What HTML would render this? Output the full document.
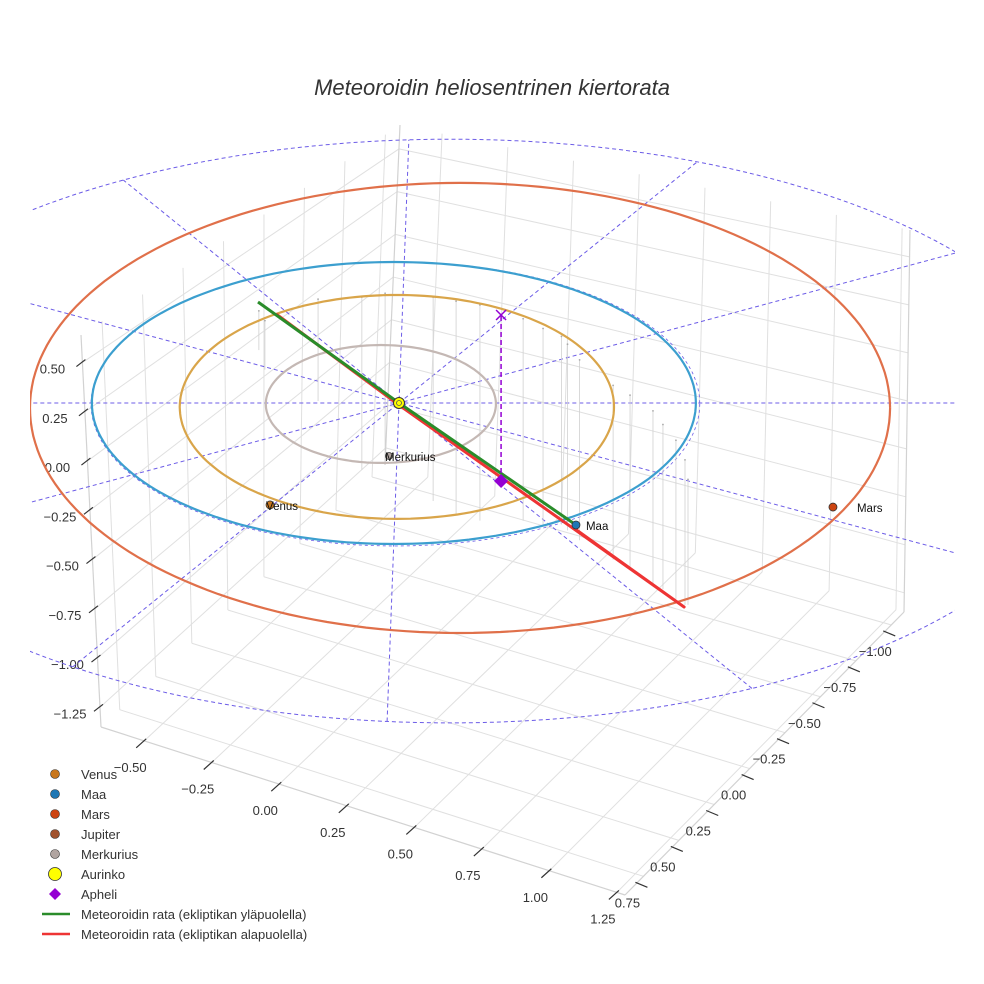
<!DOCTYPE html>
<html><head><meta charset="utf-8">
<style>
html,body{margin:0;padding:0;background:#fff;}
svg{display:block;font-family:"Liberation Sans",sans-serif;}
</style></head>
<body>
<svg id="chart" width="984" height="984" viewBox="0 0 984 984" xmlns="http://www.w3.org/2000/svg">
<defs><clipPath id="clip"><rect x="30" y="0" width="925" height="984"/></clipPath></defs>
<rect width="984" height="984" fill="#fff"/>
<text x="492" y="95" text-anchor="middle" font-size="22" font-style="italic" fill="#333">Meteoroidin heliosentrinen kiertorata</text>
<g id="box"></g>
<g id="content" clip-path="url(#clip)"></g>
<g id="legend"></g>
</svg>
<script>
// ---- axis data ----
const xTicks = [-0.5,-0.25,0,0.25,0.5,0.75,1,1.25];
const yTicks = [-1,-0.75,-0.5,-0.25,0,0.25,0.5,0.75];
const zTicks = [-1.25,-1,-0.75,-0.5,-0.25,0,0.25,0.5];
const xRange = [-0.66,1.28];
const yRange = [-1.09,0.88];
const zRange = [-1.35,0.64];
// ---- orbit data (ecliptic frame, AU) ----
const orbitNames = ['Merkurius','Venus','Maa','Mars'];
const orbitCx = [-0.06,-0.007,-0.017,0.202];
const orbitCy = [0.007,0.028,0,0.035];
const orbitRx = [0.381,0.719,1.0,1.424];
const orbitRy = [0.418,0.794,1.0,1.596];
const orbitColors = ['#c4b8b4','#d9a54a','#3c9fcf','#e0704a'];
// planets
const planetNames = ['Venus','Maa','Mars','Merkurius'];
const planetX = [-0.427,0.586,1.437,-0.033];
const planetY = [0.723,0.865,0.738,0.376];
const planetColors = ['#c8761c','#1f77b4','#cc4411','#b0a4a0'];
// reference grid
const refAngles = [0,30,60,91,120,150];
const refCircleCx = 0.169, refCircleCy = 0.199, refCircleRx = 2.12, refCircleRy = 2.07;
// meteoroid orbit
const aboveX = [-0.467,0,0.586];
const aboveY = [-0.716,0,0.865];
const aboveZ = [0,0,0];
const belowX = [-0.407,0,0.944,0.579];
const belowY = [-0.631,0.014,1.447,0.887];
const belowZ = [0,0,0,0];
// aphelion
const aphX = 0.338, aphY = -0.624, aphZ = -0.847;
// drop lines (x, z top, z bottom)
const dropX = [-0.464,-0.444,-0.268,-0.123,-0.046,0.113,0.189,0.268,0.411,0.477,0.538,0.558,0.598,0.709,0.765,0.841,0.874,0.917,0.947,0.957];
const dropTop = [0.47,0.42,0.53,0.54,0.56,0.54,0.52,0.5,0.43,0.38,0.34,0.30,0.22,0.09,0.04,-0.04,-0.11,-0.19,-0.29,-0.39];
const dropBot = [0.27,0.17,0.01,-0.34,-0.3,-0.5,-0.57,-0.6,-0.6,-0.62,-0.62,-0.65,-0.7,-0.8,-0.85,-0.93,-0.95,-1.0,-1.03,-1.03];

const NS='http://www.w3.org/2000/svg';
function mk(tag,attrs,parent){const e=document.createElementNS(NS,tag);for(const k in attrs)e.setAttribute(k,attrs[k]);parent.appendChild(e);return e;}
// ---- box projection ----
const FL={L:[101,727],F:[625,895],R:[904,612],B:[385,465]};
const TP={L:[81,335],F:[591,440],R:[910,230],B:[400,125]};
function bil(c,a,b){
  const p00=c.B,p10=c.R,p01=c.L,p11=c.F;
  return [0,1].map(i=>(1-a)*(1-b)*p00[i]+a*(1-b)*p10[i]+(1-a)*b*p01[i]+a*b*p11[i]);}
function boxP(x,y,z){const a=(x-xRange[0])/(xRange[1]-xRange[0]),b=(y-yRange[0])/(yRange[1]-yRange[0]),c=(z-zRange[0])/(zRange[1]-zRange[0]);
  const f=bil(FL,a,b),t=bil(TP,a,b);return [f[0]+(t[0]-f[0])*c,f[1]+(t[1]-f[1])*c];}
const box=document.getElementById('box');
function bl(p,q,col,w){const l=mk('line',{x1:p[0],y1:p[1],x2:q[0],y2:q[1],stroke:col,'stroke-width':w},box);return l;}
const G='#e0e0e0';
xTicks.forEach(x=>{let l=bl(boxP(x,yRange[0],zRange[0]),boxP(x,yRange[1],zRange[0]),G,1);


l=bl(boxP(x,yRange[0],zRange[0]),boxP(x,yRange[0],zRange[1]),G,1);

});
yTicks.forEach(y=>{let l=bl(boxP(xRange[0],y,zRange[0]),boxP(xRange[1],y,zRange[0]),G,1);


l=bl(boxP(xRange[0],y,zRange[0]),boxP(xRange[0],y,zRange[1]),G,1);

});
zTicks.forEach(z=>{let l=bl(boxP(xRange[0],yRange[0],z),boxP(xRange[0],yRange[1],z),G,1);


l=bl(boxP(xRange[0],yRange[0],z),boxP(xRange[1],yRange[0],z),G,1);

});
[[[xRange[0],yRange[1],zRange[0]],[xRange[1],yRange[1],zRange[0]]],[[xRange[1],yRange[0],zRange[0]],[xRange[1],yRange[1],zRange[0]]],
 [[xRange[0],yRange[1],zRange[0]],[xRange[0],yRange[1],zRange[1]]],[[xRange[1],yRange[0],zRange[0]],[xRange[1],yRange[0],zRange[1]]],
 [[xRange[0],yRange[0],zRange[0]],[xRange[0],yRange[0],zRange[1]]]].forEach(e=>{
 const l=bl(boxP(...e[0]),boxP(...e[1]),'#d2d2d2',1.2);
 
 });
function tickLabel(p,txt,dx,dy,t1,t2,name){
 const l=mk('line',{x1:p[0]+t1[0],y1:p[1]+t1[1],x2:p[0]+t2[0],y2:p[1]+t2[1],stroke:'#333','stroke-width':1.2},box);
 
 
 const t=mk('text',{x:p[0]+dx,y:p[1]+dy,'text-anchor':'middle','font-size':13,fill:'#333'},box);
 
 
 t.textContent=txt;}
function fmt(v){return (v<0?'\u2212':'')+Math.abs(v).toFixed(2);}
xTicks.forEach(x=>tickLabel(boxP(x,yRange[1],zRange[0]),fmt(x),-14,31,[2,-2],[-8,7],'x-axis'));
yTicks.forEach(y=>tickLabel(boxP(xRange[1],y,zRange[0]),fmt(y),-16,31,[-8,6],[4,11],'y-axis'));
zTicks.forEach(z=>tickLabel(boxP(xRange[0],yRange[1],z),fmt(z),-30,11,[-6,4],[3,-3],'z-axis'));

// ---- content projection ----
function P(u,v,z){return [399+302*u,403+141*v-196*z];}
const C=document.getElementById('content');
function poly(pts){return pts.map(p=>p[0].toFixed(1)+','+p[1].toFixed(1)).join(' ');}
{const pts=[];for(let i=0;i<=240;i++){const t=i/240*2*Math.PI;pts.push(P(refCircleCx+refCircleRx*Math.cos(t),refCircleCy+refCircleRy*Math.sin(t),0));}
const e=mk('polyline',{points:poly(pts),fill:'none',stroke:'#6c5ce7','stroke-width':1,'stroke-dasharray':'4,3'},C);

}
{const pts=[];for(let i=0;i<=200;i++){const t=i/200*2*Math.PI;pts.push(P(-0.012+1.008*Math.cos(t),0.006+1.008*Math.sin(t),0));}
const e=mk('polyline',{points:poly(pts),fill:'none',stroke:'#6c5ce7','stroke-width':0.8,'stroke-dasharray':'3,3'},C);

}
refAngles.forEach(a=>{const r=a*Math.PI/180,dx=Math.cos(r),dy=Math.sin(r);
 const A=(dx/refCircleRx)**2+(dy/refCircleRy)**2,Bq=-2*(dx*refCircleCx/refCircleRx**2+dy*refCircleCy/refCircleRy**2),Cq=(refCircleCx/refCircleRx)**2+(refCircleCy/refCircleRy)**2-1;
 const D=Math.sqrt(Bq*Bq-4*A*Cq),t1=(-Bq+D)/(2*A),t2=(-Bq-D)/(2*A);
 const p=P(t1*dx,t1*dy,0),q=P(t2*dx,t2*dy,0);
 const l=mk('line',{x1:p[0],y1:p[1],x2:q[0],y2:q[1],stroke:'#6c5ce7','stroke-width':1,'stroke-dasharray':'4,3'},C);
 
 });
dropX.forEach((x,i)=>{const p=P(x,0,dropTop[i]),q=P(x,0,dropBot[i]);
 const l=mk('line',{x1:p[0],y1:p[1],x2:q[0],y2:q[1],stroke:'#d0d0d0','stroke-width':0.8},C);
 
 
 const d=mk('circle',{cx:p[0],cy:p[1],r:0.9,fill:'#aaa'},C);
 
 });
orbitNames.forEach((n,k)=>{const pts=[];for(let i=0;i<=200;i++){const t=i/200*2*Math.PI;pts.push(P(orbitCx[k]+orbitRx[k]*Math.cos(t),orbitCy[k]+orbitRy[k]*Math.sin(t),0));}
 const e=mk('polyline',{points:poly(pts),fill:'none',stroke:orbitColors[k],'stroke-width':2.2},C);
 
 });
{const rp=belowX.map((x,i)=>P(x,belowY[i],belowZ[i]));
 const e=mk('polyline',{points:poly(rp),fill:'none',stroke:'#ee3434','stroke-width':3,'stroke-linejoin':'round'},C);
 
 
 const gp=aboveX.map((x,i)=>P(x,aboveY[i],aboveZ[i]));
 const g=mk('polyline',{points:poly(gp),fill:'none',stroke:'#2a8c2a','stroke-width':3},C);
 
 }
{const p=P(aphX,aphY,aphZ),q=P(aphX,aphY,0);
 const l=mk('line',{x1:p[0],y1:p[1],x2:q[0],y2:q[1],stroke:'#9400d3','stroke-width':1.5,'stroke-dasharray':'5,3'},C);
 
 
 const x=mk('path',{d:`M${q[0]-5},${q[1]-5}L${q[0]+5},${q[1]+5}M${q[0]+5},${q[1]-5}L${q[0]-5},${q[1]+5}`,stroke:'#9400d3','stroke-width':1.5},C);
 
 
 const d=mk('path',{d:`M${p[0]},${p[1]-7}L${p[0]+7},${p[1]}L${p[0]},${p[1]+7}L${p[0]-7},${p[1]}Z`,fill:'#9400d3'},C);
 
 }
planetNames.forEach((n,i)=>{const p=P(planetX[i],planetY[i],0);
 const c=mk('circle',{cx:p[0],cy:p[1],r:n==='Merkurius'?3.5:4,fill:planetColors[i],stroke:'#333','stroke-width':0.8},C);
 
 
 const off=(n==='Mars')?24:(n==='Maa'?10:-4);
 const t=mk('text',{x:p[0]+off,y:p[1]+5,'font-size':11.5,fill:'#111'},C);
 
 
 t.textContent=n;});
{const p=P(0,0,0);
 const s=mk('circle',{cx:p[0],cy:p[1],r:5.5,fill:'#ffff00',stroke:'#333','stroke-width':1},C);
 
 
 const s2=mk('circle',{cx:p[0],cy:p[1],r:2.5,fill:'none',stroke:'#555','stroke-width':0.8},C);
 
 }

const legendNames=['Venus','Maa','Mars','Jupiter','Merkurius','Aurinko','Apheli','Meteoroidin rata (ekliptikan yläpuolella)','Meteoroidin rata (ekliptikan alapuolella)'];
const legendColors=['#c8761c','#1f77b4','#cc4411','#a0522d','#b0a4a0','#ffff00','#9400d3','#2a8c2a','#ee3434'];
const Lg=document.getElementById('legend');
legendNames.forEach((n,i)=>{const y=774+i*20;
 const g=mk('g',{},Lg);
 
 
 if(i<5){mk('circle',{cx:55,cy:y,r:4.5,fill:legendColors[i],stroke:'#333','stroke-width':0.6},g);}
 else if(i===5){mk('circle',{cx:55,cy:y,r:6.5,fill:'#ffff00',stroke:'#333','stroke-width':0.8},g);}
 else if(i===6){mk('path',{d:`M55,${y-6}L61,${y}L55,${y+6}L49,${y}Z`,fill:'#9400d3'},g);}
 else{mk('line',{x1:42,y1:y,x2:70,y2:y,stroke:legendColors[i],'stroke-width':2.5},g);}
 const t=mk('text',{x:81,y:y+5,'font-size':13,fill:'#333'},g);t.textContent=n;});
</script>
</body></html>
